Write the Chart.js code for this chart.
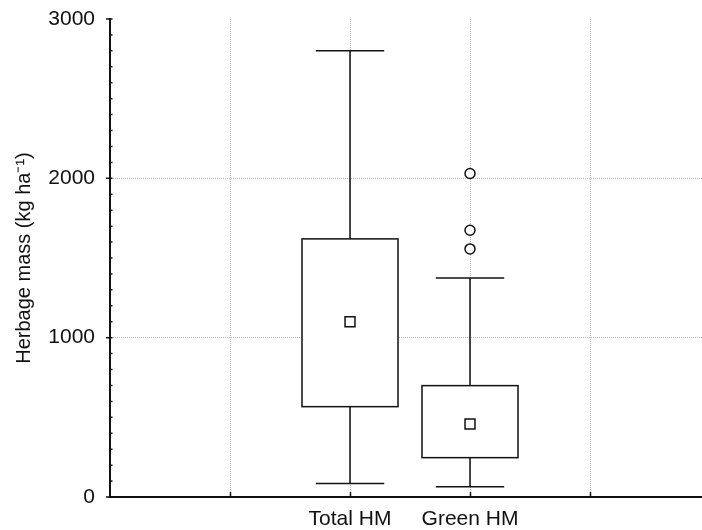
<!DOCTYPE html>
<html>
<head>
<meta charset="utf-8">
<script src="https://cdn.jsdelivr.net/npm/chart.js@4/dist/chart.umd.min.js"></script>
<style>
  html, body { margin: 0; padding: 0; background: #fff; overflow: hidden; }
  canvas { display: block; }
</style>
</head>
<body>
<canvas id="boxChart" width="702" height="530"></canvas>
<script>
// Box plot of herbage mass (Statistica style)

// x slots: the two groups sit in the middle of five slots
const xLabels = ['', '', 'Total HM', 'Green HM', ''];
const categories = ['Total HM', 'Green HM'];

// box statistics (kg ha-1)
const whiskerLow = [84, 65];
const q1 = [567, 247];
const q3 = [1620, 699];
const whiskerHigh = [2800, 1375];
const means = [1100, 458];
const outliers = [[], [1557, 1674, 2030]];

const yTicks = [0, 1000, 2000, 3000];

const FONT = "'Liberation Sans', Arial, sans-serif";
const xOf = (i) => xLabels.indexOf(categories[i]);

// whiskers, boxes and inward/minor axis ticks
const boxPlugin = {
    id: 'boxPlugin',
    beforeDatasetsDraw(chart) {
        const { ctx, scales: { x, y } } = chart;
        ctx.save();
        ctx.strokeStyle = '#111';
        ctx.lineWidth = 1.5;
        categories.forEach((c, i) => {
            const cx = x.getPixelForValue(xOf(i));
            const halfBox = x.getPixelForValue(xOf(i) + 0.4) - cx;
            const halfCap = x.getPixelForValue(xOf(i) + 0.285) - cx;
            const yLo = y.getPixelForValue(whiskerLow[i]);
            const yHi = y.getPixelForValue(whiskerHigh[i]);
            const yQ1 = y.getPixelForValue(q1[i]);
            const yQ3 = y.getPixelForValue(q3[i]);
            ctx.beginPath();
            // whisker stems
            ctx.moveTo(cx, yHi); ctx.lineTo(cx, yQ3);
            ctx.moveTo(cx, yQ1); ctx.lineTo(cx, yLo);
            // caps
            ctx.moveTo(cx - halfCap, yHi); ctx.lineTo(cx + halfCap, yHi);
            ctx.moveTo(cx - halfCap, yLo); ctx.lineTo(cx + halfCap, yLo);
            ctx.stroke();
            ctx.fillStyle = '#fff';
            ctx.fillRect(cx - halfBox, yQ3, halfBox * 2, yQ1 - yQ3);
            ctx.strokeRect(cx - halfBox, yQ3, halfBox * 2, yQ1 - yQ3);
        });
        ctx.restore();
    },
    afterDraw(chart) {
        const { ctx, scales: { x, y } } = chart;
        ctx.save();
        ctx.strokeStyle = '#111';
        ctx.lineWidth = 1.5;
        ctx.beginPath();
        // x ticks point up into the plot
        x.ticks.forEach(t => {
            if (t.value <= 0) return;
            const px = Math.round(x.getPixelForValue(t.value)) + 0.5;
            ctx.moveTo(px, y.bottom);
            ctx.lineTo(px, y.bottom - 5);
        });
        // y major ticks outward, minor ticks inward
        const ax = x.left;
        yTicks.forEach(v => {
            const py = y.getPixelForValue(v);
            ctx.moveTo(ax, py);
            ctx.lineTo(ax - 4, py);
        });
        for (let v = y.min; v <= y.max; v += 100) {
            const py = y.getPixelForValue(v);
            ctx.moveTo(ax, py);
            ctx.lineTo(ax + 2.5, py);
        }
        ctx.stroke();
        ctx.restore();
    }
};

new Chart(document.getElementById('boxChart'), {
    type: 'scatter',
    data: {
        datasets: [
            {
                label: 'Mean',
                data: means.map((m, i) => ({ x: xOf(i), y: m })),
                pointStyle: 'rect',
                pointRadius: 7,
                backgroundColor: '#fff',
                borderColor: '#111',
                borderWidth: 1.5
            },
            {
                label: 'Outliers',
                data: outliers.flatMap((arr, i) => arr.map(v => ({ x: xOf(i), y: v }))),
                pointStyle: 'circle',
                pointRadius: 5,
                backgroundColor: '#fff',
                borderColor: '#111',
                borderWidth: 1.5
            }
        ]
    },
    options: {
        responsive: false,
        animation: false,
        layout: { autoPadding: false, padding: { top: 19, right: 0, left: 0, bottom: 0 } },
        plugins: { legend: { display: false }, tooltip: { enabled: false } },
        scales: {
            x: {
                type: 'linear',
                min: 0,
                max: 592 / 120,
                afterFit: (s) => { s.height = 33; s.paddingLeft = 0; s.paddingRight = 0; },
                afterBuildTicks: (s) => { s.ticks = [0, 1, 2, 3, 4].map(v => ({ value: v })); },
                border: { display: true, color: '#111', width: 2, dash: [1, 1] },
                grid: {
                    drawTicks: false,
                    color: (c) => c.tick && c.tick.value > 0 ? '#b8b8b8' : 'rgba(0,0,0,0)',
                    lineWidth: 1
                },
                ticks: {
                    autoSkip: false,
                    maxRotation: 0,
                    padding: 10,
                    color: '#111',
                    font: { family: FONT, size: 21 },
                    callback: (v) => xLabels[v] || ''
                }
            },
            y: {
                min: 0,
                max: 3000,
                afterFit: (s) => { s.width = 110; s.paddingTop = 0; s.paddingBottom = 0; },
                afterBuildTicks: (s) => { s.ticks = yTicks.map(v => ({ value: v })); },
                border: { display: true, color: '#111', width: 2, dash: [1, 1] },
                grid: {
                    drawTicks: false,
                    color: (c) => c.tick && c.tick.value > 0 && c.tick.value < 3000 ? '#b8b8b8' : 'rgba(0,0,0,0)',
                    lineWidth: 1
                },
                ticks: {
                    padding: 15,
                    color: '#111',
                    font: { family: FONT, size: 21 },
                    callback: (v) => String(v)
                },
                title: {
                    display: true,
                    text: 'Herbage mass (kg ha\u207B\u00B9)',
                    color: '#111',
                    padding: { top: 12, bottom: 0 },
                    font: { family: FONT, size: 20 }
                }
            }
        }
    },
    plugins: [boxPlugin]
});
</script>
</body>
</html>
